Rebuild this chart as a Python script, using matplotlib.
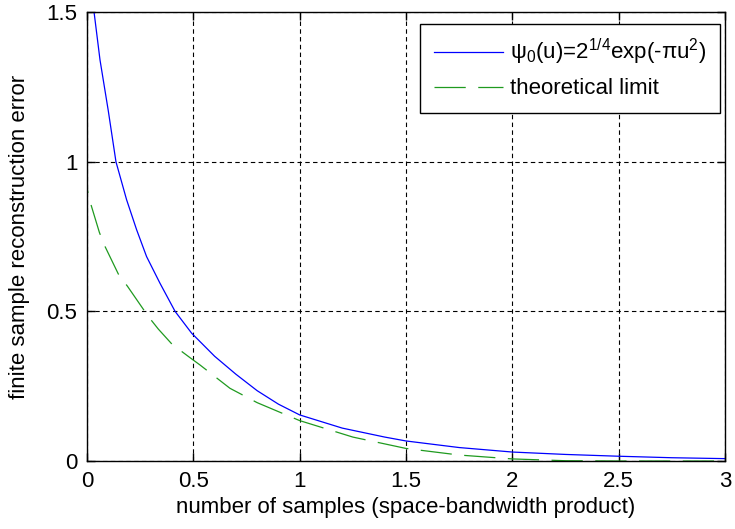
import numpy as np
import matplotlib.pyplot as plt

plt.rcParams['font.family'] = ['Liberation Sans', 'DejaVu Sans']
plt.rcParams['mathtext.fontset'] = 'custom'
plt.rcParams['mathtext.rm'] = 'Liberation Sans'
plt.rcParams['mathtext.it'] = 'Liberation Sans:italic'

# values
blue_x = [0.033, 0.061, 0.1, 0.136, 0.186, 0.233, 0.28, 0.343, 0.414, 0.492, 0.6, 0.7, 0.8,
          0.9, 1.0, 1.2, 1.4, 1.5, 1.75, 2.0, 2.25, 2.5, 2.75, 3.0]
blue_y = [1.5, 1.34, 1.17, 1.0, 0.873, 0.773, 0.683, 0.594, 0.5, 0.427, 0.35, 0.29, 0.235,
          0.19, 0.154, 0.11, 0.08, 0.067, 0.045, 0.03, 0.022, 0.016, 0.011, 0.008]

green_x = [0.0, 0.002, 0.014, 0.058, 0.081, 0.147, 0.191, 0.288, 0.335, 0.4, 0.481, 0.531,
           0.672, 0.8, 1.0, 1.25, 1.5, 1.75, 2.0, 2.25, 2.5, 3.0]
green_y = [1.0, 0.905, 0.867, 0.764, 0.722, 0.625, 0.583, 0.483, 0.441, 0.39, 0.347, 0.321,
           0.243, 0.195, 0.135, 0.08, 0.042, 0.02, 0.007, 0.001, 0.0, 0.0]

blue_label = 'ψ$_0$(u)=2$^{1/4}$exp(-πu$^2$)'
green_label = 'theoretical limit'

fig = plt.figure(figsize=(7.35, 5.29), dpi=100)
ax = fig.add_axes([0.1184, 0.1285, 0.868, 0.8488])

ax.plot(blue_x, blue_y, color='#0000ff', lw=0.9, label=blue_label)
ax.plot(green_x, green_y, color='#1f9a1f', lw=0.9, dashes=(25, 10), label=green_label)

ax.set_xlim(0, 3)
ax.set_ylim(0, 1.5)
ax.set_xticks([0, 0.5, 1, 1.5, 2, 2.5, 3])
ax.set_xticklabels(['0', '0.5', '1', '1.5', '2', '2.5', '3'])
ax.set_yticks([0, 0.5, 1, 1.5])
ax.set_yticklabels(['0', '0.5', '1', '1.5'])
ax.tick_params(direction='in', top=True, right=True, length=6, width=1, labelsize=16, pad=7)
ax.grid(True, color='black', linestyle=(0, (4, 3)), lw=0.8)
for s in ax.spines.values():
    s.set_linewidth(1.0)

ax.set_xlabel('number of samples (space-bandwidth product)', fontsize=16, labelpad=4)
ax.set_ylabel('finite sample reconstruction error', fontsize=16, labelpad=12)

leg = ax.legend(loc='upper right', bbox_to_anchor=(0.992, 0.974), borderaxespad=0,
                fancybox=False, edgecolor='black', framealpha=1, fontsize=16,
                handlelength=3.1, handletextpad=0.35, labelspacing=0.5, borderpad=0.6)
leg.get_frame().set_linewidth(1.0)

fig.savefig('out.png', dpi=100)
